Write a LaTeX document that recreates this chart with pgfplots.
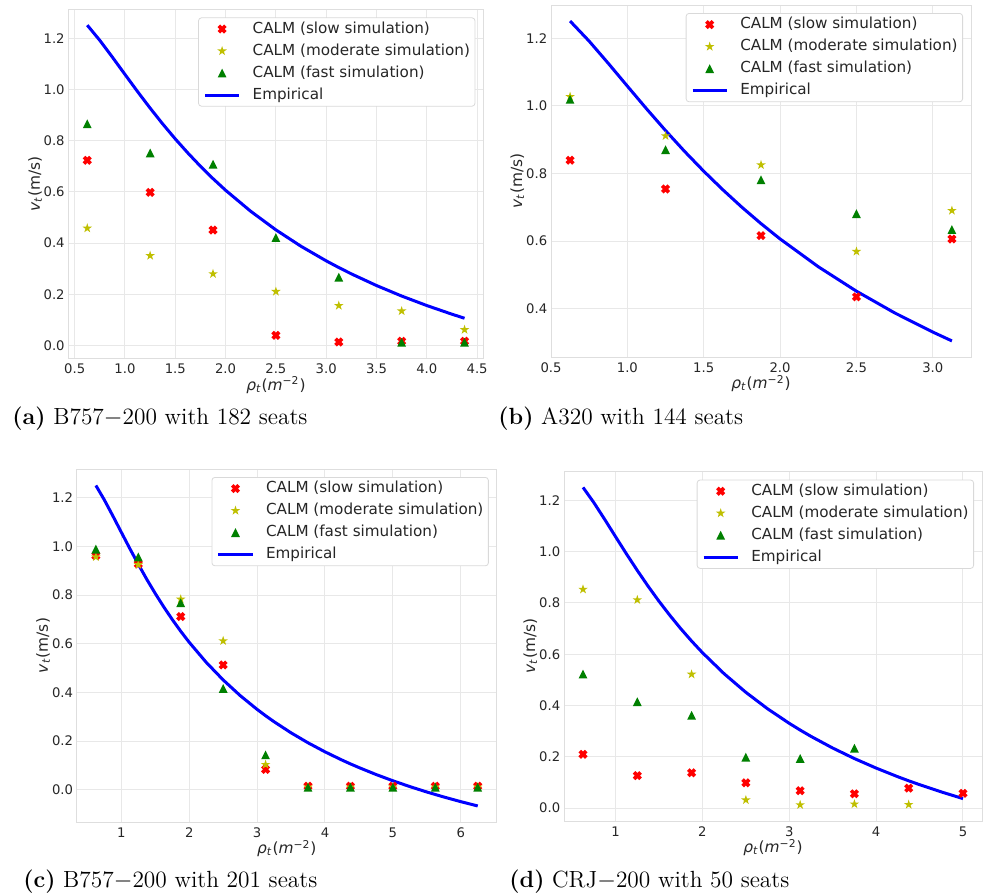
\documentclass[border=0pt]{standalone}
\usepackage{fontspec}
\usepackage{pgfplots}
\pgfplotsset{compat=1.18}
\usepackage{pgfplotstable}
\newfontfamily\dejavu{DejaVu Sans}
\definecolor{mplR}{rgb}{1,0,0}
\definecolor{mplY}{rgb}{0.75,0.75,0}
\definecolor{mplG}{rgb}{0,0.5,0}
\definecolor{mplB}{rgb}{0,0,1}
\newcommand\tickfont{\dejavu\fontsize{6.6}{7.5}\selectfont}
\newcommand\legfont{\dejavu\fontsize{7.6}{9}\selectfont}
\newcommand\labfont{\dejavu\fontsize{7.7}{9}\selectfont}
\newcommand\capfont{\fontsize{11.7}{14}\selectfont}

\pgfdeclareplotmark{fstar}{%
  \pgfpathmoveto{\pgfpointpolar{90}{\pgfplotmarksize}}%
  \pgfpathlineto{\pgfpointpolar{126}{0.382\pgfplotmarksize}}%
  \pgfpathlineto{\pgfpointpolar{162}{\pgfplotmarksize}}%
  \pgfpathlineto{\pgfpointpolar{198}{0.382\pgfplotmarksize}}%
  \pgfpathlineto{\pgfpointpolar{234}{\pgfplotmarksize}}%
  \pgfpathlineto{\pgfpointpolar{270}{0.382\pgfplotmarksize}}%
  \pgfpathlineto{\pgfpointpolar{306}{\pgfplotmarksize}}%
  \pgfpathlineto{\pgfpointpolar{342}{0.382\pgfplotmarksize}}%
  \pgfpathlineto{\pgfpointpolar{18}{\pgfplotmarksize}}%
  \pgfpathlineto{\pgfpointpolar{54}{0.382\pgfplotmarksize}}%
  \pgfpathclose
  \pgfusepathqfill}
\pgfdeclareplotmark{fX}{%
  \pgfpathmoveto{\pgfpointpolar{90}{0.5657\pgfplotmarksize}}%
  \pgfpathlineto{\pgfpointpolar{113.2}{1.077\pgfplotmarksize}}%
  \pgfpathlineto{\pgfpointpolar{156.8}{1.077\pgfplotmarksize}}%
  \pgfpathlineto{\pgfpointpolar{180}{0.5657\pgfplotmarksize}}%
  \pgfpathlineto{\pgfpointpolar{203.2}{1.077\pgfplotmarksize}}%
  \pgfpathlineto{\pgfpointpolar{246.8}{1.077\pgfplotmarksize}}%
  \pgfpathlineto{\pgfpointpolar{270}{0.5657\pgfplotmarksize}}%
  \pgfpathlineto{\pgfpointpolar{293.2}{1.077\pgfplotmarksize}}%
  \pgfpathlineto{\pgfpointpolar{336.8}{1.077\pgfplotmarksize}}%
  \pgfpathlineto{\pgfpointpolar{0}{0.5657\pgfplotmarksize}}%
  \pgfpathlineto{\pgfpointpolar{23.2}{1.077\pgfplotmarksize}}%
  \pgfpathlineto{\pgfpointpolar{66.8}{1.077\pgfplotmarksize}}%
  \pgfpathclose
  \pgfusepathqfill}
\pgfdeclareplotmark{ftri}{%
  \pgfpathmoveto{\pgfpoint{0pt}{\pgfplotmarksize}}%
  \pgfpathlineto{\pgfpoint{-\pgfplotmarksize}{-\pgfplotmarksize}}%
  \pgfpathlineto{\pgfpoint{\pgfplotmarksize}{-\pgfplotmarksize}}%
  \pgfpathclose
  \pgfusepathqfill}

\pgfplotstableread{
x y
0.625 1.2505
0.75 1.1910
0.875 1.1255
1.0 1.0581
1.125 0.9913
1.25 0.9267
1.375 0.8649
1.5 0.8065
1.625 0.7516
1.75 0.6999
1.875 0.6515
2.0 0.6062
2.25 0.5240
2.5 0.4516
2.75 0.3875
3.0 0.3307
3.125 0.3046
3.25 0.2799
3.5 0.2344
3.75 0.1934
4.0 0.1563
4.25 0.1225
4.375 0.1067
4.5 0.0917
4.75 0.0634
5.0 0.0374
5.25 0.0135
5.5 -0.0087
5.75 -0.0292
6.0 -0.0483
6.25 -0.0661
}\empirical

\pgfplotsset{
  calm/.style={
    scale only axis, anchor=north west,
    axis line style={draw=black!13},
    grid=major, grid style={draw=black!9, line width=0.5pt},
    major tick length=0pt,
    /pgf/number format/assume math mode=true,
    tick label style={font=\tickfont, text=black!85},
    x tick label style={anchor=north, inner sep=0pt, yshift=-2.6pt},
    y tick label style={anchor=east, inner sep=0pt, xshift=-1.7pt,
      /pgf/number format/fixed, /pgf/number format/fixed zerofill, /pgf/number format/precision=1},
    label style={font=\labfont, text=black!85},
    xlabel style={at={(axis description cs:0.5,0)}, anchor=center, yshift=-13.3pt},
    ylabel style={at={(axis description cs:-0.0805,0.5)}, anchor=center, rotate=0},
    xlabel={\textit{ρ}\textsubscript{\textit{t}}(\textit{m}\textsuperscript{−2})},
    ylabel={\textit{v}\textsubscript{\textit{t}}(m/s)},
    legend style={at={(1,1)}, anchor=north east, xshift=-4pt, yshift=-4pt,
      draw=black!15, rounded corners=1.5pt, fill=white, font=\legfont, text=black!85,
      inner xsep=2.5pt, inner ysep=2pt, row sep=3.8pt, column sep=6pt,
      nodes={inner sep=0pt, text height=5.6pt, text depth=1.6pt}},
    legend cell align=left,
  },
  slow/.style={only marks, mark=fX, mark size=2.3pt, color=mplR},
  mod/.style={only marks, mark=fstar, mark size=2.5pt, color=mplY},
  fast/.style={only marks, mark=ftri, mark size=2.2pt, color=mplG},
  emp/.style={no marks, color=mplB, line width=1.5pt},
  fmt1x/.style={x tick label style={/pgf/number format/fixed, /pgf/number format/fixed zerofill, /pgf/number format/precision=1}},
}

\begin{document}
\begin{tikzpicture}
\path[use as bounding box] (0,0) rectangle (493pt,-447.5pt);

% (a)
\begin{axis}[calm, fmt1x, at={(34.2pt,-4.7pt)}, width=207.5pt, height=174.5pt,
  xmin=0.4375, xmax=4.5625, ymin=-0.05, ymax=1.312,
  xtick={0.5,1.0,1.5,2.0,2.5,3.0,3.5,4.0,4.5}, ytick={0,0.2,0.4,0.6,0.8,1.0,1.2}]
\addplot[slow] coordinates {(0.625,0.723)(1.25,0.598)(1.875,0.451)(2.5,0.040)(3.125,0.014)(3.75,0.017)(4.375,0.017)};
\addlegendentry{CALM (slow simulation)}
\addplot[mod] coordinates {(0.625,0.458)(1.25,0.351)(1.875,0.280)(2.5,0.211)(3.125,0.156)(3.75,0.135)(4.375,0.062)};
\addlegendentry{CALM (moderate simulation)}
\addplot[fast] coordinates {(0.625,0.866)(1.25,0.752)(1.875,0.708)(2.5,0.422)(3.125,0.267)(3.75,0.013)(4.375,0.013)};
\addlegendentry{CALM (fast simulation)}
\addplot[emp, restrict x to domain=0.6:4.4] table[x=x,y=y] {\empirical};
\addlegendentry{Empirical}
\end{axis}

% (b)
\begin{axis}[calm, fmt1x, at={(275.5pt,-2.5pt)}, width=210pt, height=176pt,
  xmin=0.5, xmax=3.25, ymin=0.257, ymax=1.298,
  xtick={0.5,1.0,1.5,2.0,2.5,3.0}, ytick={0.4,0.6,0.8,1.0,1.2}]
\addplot[slow] coordinates {(0.625,0.839)(1.25,0.754)(1.875,0.616)(2.5,0.435)(3.125,0.606)};
\addlegendentry{CALM (slow simulation)}
\addplot[mod] coordinates {(0.625,1.027)(1.25,0.911)(1.875,0.825)(2.5,0.569)(3.125,0.690)};
\addlegendentry{CALM (moderate simulation)}
\addplot[fast] coordinates {(0.625,1.019)(1.25,0.870)(1.875,0.781)(2.5,0.681)(3.125,0.634)};
\addlegendentry{CALM (fast simulation)}
\addplot[emp, restrict x to domain=0.6:3.15] table[x=x,y=y] {\empirical};
\addlegendentry{Empirical}
\end{axis}

% (c)
\begin{axis}[calm, at={(38.4pt,-234.5pt)}, width=210pt, height=176.5pt,
  xmin=0.344, xmax=6.531, ymin=-0.132, ymax=1.318,
  xtick={1,2,3,4,5,6}, ytick={0,0.2,0.4,0.6,0.8,1.0,1.2}]
\addplot[slow] coordinates {(0.625,0.962)(1.25,0.928)(1.875,0.712)(2.5,0.513)(3.125,0.084)(3.75,0.015)(4.375,0.015)(5.0,0.015)(5.625,0.015)(6.25,0.015)};
\addlegendentry{CALM (slow simulation)}
\addplot[mod] coordinates {(0.625,0.957)(1.25,0.925)(1.875,0.783)(2.5,0.612)(3.125,0.104)(3.75,0.011)(4.375,0.011)(5.0,0.011)(5.625,0.011)(6.25,0.011)};
\addlegendentry{CALM (moderate simulation)}
\addplot[fast] coordinates {(0.625,0.989)(1.25,0.957)(1.875,0.769)(2.5,0.417)(3.125,0.144)(3.75,0.011)(4.375,0.011)(5.0,0.011)(5.625,0.011)(6.25,0.011)};
\addlegendentry{CALM (fast simulation)}
\addplot[emp] table[x=x,y=y] {\empirical};
\addlegendentry{Empirical}
\end{axis}

% (d)
\begin{axis}[calm, at={(282pt,-235.8pt)}, width=209pt, height=174.7pt,
  xmin=0.406, xmax=5.219, ymin=-0.05, ymax=1.312,
  xtick={1,2,3,4,5}, ytick={0,0.2,0.4,0.6,0.8,1.0,1.2}]
\addplot[slow] coordinates {(0.625,0.210)(1.25,0.127)(1.875,0.138)(2.5,0.099)(3.125,0.068)(3.75,0.056)(4.375,0.078)(5.0,0.058)};
\addlegendentry{CALM (slow simulation)}
\addplot[mod] coordinates {(0.625,0.853)(1.25,0.812)(1.875,0.522)(2.5,0.032)(3.125,0.013)(3.75,0.016)(4.375,0.014)};
\addlegendentry{CALM (moderate simulation)}
\addplot[fast] coordinates {(0.625,0.523)(1.25,0.415)(1.875,0.362)(2.5,0.199)(3.125,0.194)(3.75,0.234)};
\addlegendentry{CALM (fast simulation)}
\addplot[emp, restrict x to domain=0.6:5.05] table[x=x,y=y] {\empirical};
\addlegendentry{Empirical}
\end{axis}

\node[anchor=base west, font=\capfont, inner sep=0pt] at (6pt,-212pt) {\textbf{(a)} B757$-$200 with 182 seats};
\node[anchor=base west, font=\capfont, inner sep=0pt] at (249pt,-212pt) {\textbf{(b)} A320 with 144 seats};
\node[anchor=base west, font=\capfont, inner sep=0pt] at (11.5pt,-443.5pt) {\textbf{(c)} B757$-$200 with 201 seats};
\node[anchor=base west, font=\capfont, inner sep=0pt] at (254.5pt,-443.5pt) {\textbf{(d)} CRJ$-$200 with 50 seats};
\end{tikzpicture}
\end{document}
